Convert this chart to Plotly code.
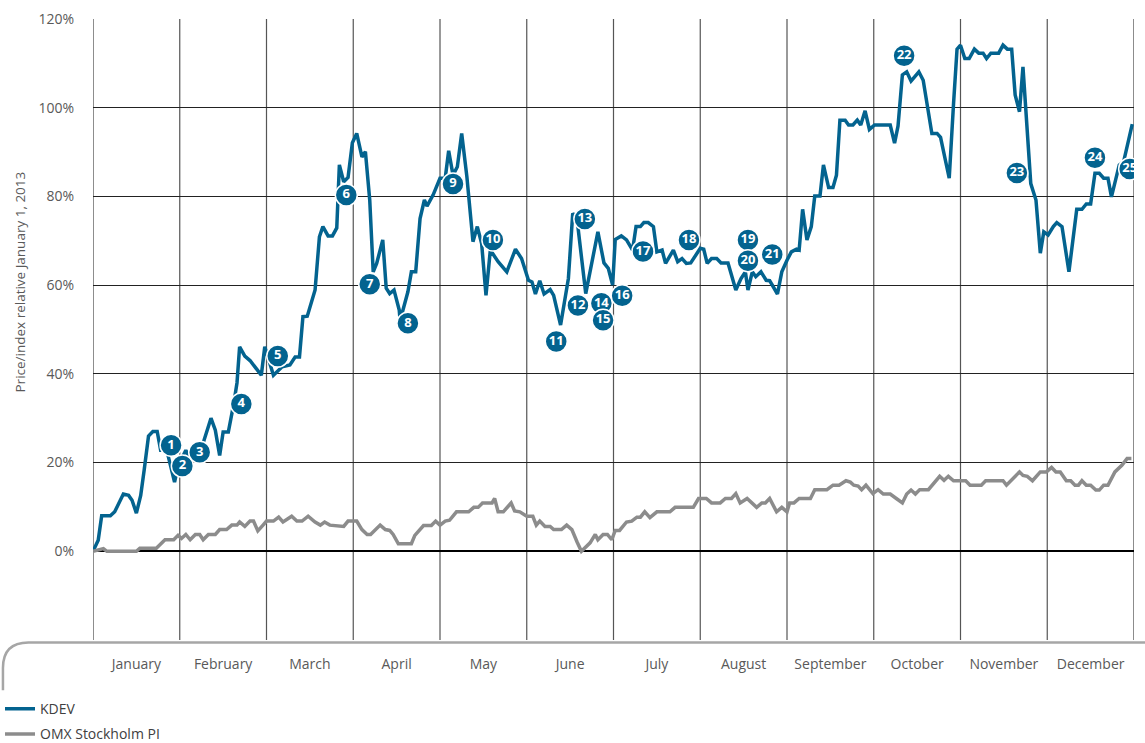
import plotly.graph_objects as go

# Time axis in months since January 1, 2013 (0 = Jan 1, 12 = Dec 31)
months = ["January", "February", "March", "April", "May", "June", "July",
          "August", "September", "October", "November", "December"]

kdev_t = [0.00, 0.06, 0.10, 0.20, 0.25, 0.35, 0.41, 0.45, 0.50, 0.55, 0.59, 0.64, 0.69, 0.74,
          0.78, 0.83, 0.86, 0.94, 0.98, 1.07, 1.10, 1.23, 1.27, 1.36, 1.41, 1.46, 1.50, 1.56,
          1.62, 1.66, 1.69, 1.75, 1.81, 1.87, 1.94, 1.98, 2.08, 2.18, 2.27, 2.33, 2.38, 2.42,
          2.47, 2.56, 2.61, 2.65, 2.71, 2.76, 2.81, 2.84, 2.89, 2.94, 2.99, 3.04, 3.10, 3.14,
          3.19, 3.23, 3.27, 3.34, 3.38, 3.42, 3.47, 3.53, 3.54, 3.63, 3.67, 3.72, 3.77, 3.82,
          3.85, 3.92, 4.00, 4.06, 4.10, 4.15, 4.20, 4.25, 4.31, 4.38, 4.43, 4.48, 4.53, 4.58,
          4.67, 4.77, 4.87, 4.94, 5.02, 5.06, 5.10, 5.15, 5.20, 5.27, 5.31, 5.39, 5.48, 5.53,
          5.58, 5.68, 5.75, 5.82, 5.89, 5.94, 5.99, 6.02, 6.09, 6.15, 6.22, 6.26, 6.31, 6.35,
          6.40, 6.46, 6.50, 6.56, 6.60, 6.69, 6.74, 6.79, 6.84, 6.89, 7.00, 7.04, 7.08, 7.13,
          7.19, 7.24, 7.32, 7.41, 7.47, 7.52, 7.55, 7.60, 7.64, 7.70, 7.76, 7.80, 7.89, 7.94,
          8.00, 8.05, 8.11, 8.14, 8.18, 8.23, 8.28, 8.32, 8.38, 8.42, 8.48, 8.53, 8.57, 8.61,
          8.67, 8.71, 8.76, 8.81, 8.85, 8.90, 8.95, 9.01, 9.19, 9.24, 9.28, 9.33, 9.38, 9.43,
          9.52, 9.57, 9.67, 9.73, 9.77, 9.87, 9.92, 9.96, 10.00, 10.05, 10.10, 10.16, 10.21,
          10.26, 10.30, 10.35, 10.44, 10.49, 10.54, 10.59, 10.63, 10.68, 10.72, 10.81, 10.87,
          10.92, 10.96, 11.01, 11.07, 11.11, 11.17, 11.25, 11.34, 11.40, 11.45, 11.50, 11.55,
          11.60, 11.65, 11.70, 11.74, 11.83, 11.88, 11.98]
kdev_v = [0, 2.5, 8, 8, 8.9, 12.9, 12.6, 11.5, 8.6, 12.6, 18.3, 26, 27, 27,
          22.8, 22.8, 22, 15.6, 19.2, 22.8, 21.6, 22.3, 24.4, 30, 27.3, 21.6, 26.9, 26.9,
          33, 38, 46.1, 44, 43, 41.5, 39.7, 46.1, 39.7, 41.6, 42, 43.8, 43.8, 52.9,
          53, 58.9, 70.9, 73.2, 71.1, 71.1, 72.9, 87.1, 83.3, 84.3, 92.1, 94.2, 88.9, 90.1,
          79.2, 63, 64.9, 70.2, 59.3, 58.1, 58.9, 54.4, 52, 58.5, 63, 63, 75, 79.2,
          77.8, 80.3, 84.1, 84.1, 90.3, 84.8, 86.7, 94.2, 84.4, 69.8, 73.2, 69.4, 57.7, 67.9,
          65.3, 63, 68.1, 66, 61.1, 60.7, 58, 61, 58, 59, 57.7, 51, 61.5, 76.2,
          74.8, 58.1, 64.9, 72, 65, 63.8, 60, 70.3, 71.1, 70.2, 67.9, 73.2, 73.2, 74.1,
          74.1, 73.2, 67.5, 67.9, 64.9, 67.9, 65.3, 66, 64.9, 65, 68.3, 68.1, 64.9, 66,
          66, 65, 65, 58.9, 61.5, 63, 58.9, 63, 61.9, 63, 61.1, 61, 58, 63,
          65.6, 67.5, 68.1, 67.9, 77.1, 70.2, 73.2, 80.1, 80.1, 87.1, 82, 82, 84.8, 97.2,
          97.2, 96.1, 96.1, 97.2, 96.1, 99.3, 95.1, 96.1, 96.1, 92, 95.9, 107.4, 108.1, 106,
          108.1, 106.2, 94.2, 94.2, 93.3, 84.1, 101, 113.2, 114.1, 111.1, 111.1, 113.2, 112.3,
          112.3, 111.1, 112.3, 112.3, 114.1, 113.2, 113.2, 102.9, 99.1, 109.2, 82.9, 79.2,
          67.2, 72, 71.3, 73.2, 74.1, 73.2, 63, 77.1, 77.1, 78.3, 78.3, 85.2,
          85.2, 84.1, 84.1, 79.9, 87.1, 87.8, 96.3]

omx_t = [0.00, 0.12, 0.16, 0.50, 0.54, 0.73, 0.83, 0.93, 0.98, 1.02, 1.07, 1.12, 1.18, 1.23,
         1.27, 1.33, 1.41, 1.46, 1.54, 1.60, 1.66, 1.69, 1.75, 1.81, 1.85, 1.90, 1.96, 2.00,
         2.08, 2.14, 2.19, 2.29, 2.35, 2.41, 2.48, 2.56, 2.62, 2.67, 2.73, 2.89, 2.94, 3.04,
         3.10, 3.16, 3.20, 3.31, 3.37, 3.42, 3.46, 3.52, 3.67, 3.71, 3.81, 3.90, 3.95, 4.00,
         4.06, 4.11, 4.19, 4.33, 4.39, 4.44, 4.49, 4.60, 4.63, 4.67, 4.73, 4.82, 4.86, 4.92,
         5.00, 5.07, 5.11, 5.15, 5.21, 5.27, 5.31, 5.40, 5.46, 5.52, 5.58, 5.63, 5.73, 5.79,
         5.82, 5.88, 5.93, 5.98, 6.02, 6.07, 6.15, 6.21, 6.27, 6.31, 6.36, 6.42, 6.50, 6.65,
         6.71, 6.92, 6.98, 7.07, 7.13, 7.23, 7.29, 7.36, 7.41, 7.46, 7.54, 7.65, 7.71, 7.75,
         7.80, 7.88, 7.94, 8.00, 8.03, 8.08, 8.14, 8.27, 8.32, 8.46, 8.53, 8.60, 8.68, 8.73,
         8.77, 8.82, 8.86, 8.91, 8.99, 9.05, 9.11, 9.19, 9.26, 9.33, 9.38, 9.43, 9.48, 9.53,
         9.63, 9.76, 9.81, 9.86, 9.92, 10.06, 10.11, 10.24, 10.29, 10.49, 10.53, 10.68, 10.72,
         10.77, 10.83, 10.92, 10.99, 11.05, 11.10, 11.15, 11.22, 11.27, 11.32, 11.36, 11.40,
         11.45, 11.50, 11.56, 11.60, 11.65, 11.70, 11.78, 11.86, 11.92, 11.97]
omx_v = [0, 0.6, 0, 0, 0.7, 0.7, 2.6, 2.6, 3.6, 2.9, 3.8, 2.6, 3.8, 3.8,
         2.6, 3.8, 3.8, 4.9, 4.9, 5.9, 5.9, 6.6, 5.6, 6.8, 6.8, 4.6, 5.9, 6.8,
         6.8, 7.7, 6.6, 7.9, 6.8, 6.8, 7.9, 6.6, 5.9, 6.6, 5.9, 5.6, 6.8, 6.8,
         4.9, 3.8, 3.8, 5.9, 4.9, 4.7, 3.8, 1.7, 1.7, 3.6, 5.8, 5.8, 6.8, 5.9,
         6.8, 7, 8.9, 8.9, 9.9, 9.9, 10.9, 10.9, 11.9, 8.9, 8.9, 10.9, 9.1, 8.9,
         7.9, 7.9, 5.9, 6.8, 5.6, 5.6, 4.9, 4.9, 5.9, 4.9, 2.1, 0, 1.9, 3.8,
         2.6, 3.8, 3.8, 2.6, 4.7, 4.7, 6.6, 6.8, 7.7, 7.7, 8.9, 7.6, 8.9, 8.9,
         9.9, 9.9, 11.9, 11.9, 10.9, 10.9, 11.9, 11.9, 13, 10.9, 11.9, 9.9, 10.9, 10.9,
         11.9, 8.9, 9.9, 8.9, 10.9, 10.9, 11.9, 11.9, 13.9, 13.9, 14.9, 14.9, 15.9, 15.6,
         14.9, 14.7, 13.9, 14.9, 13, 13.9, 12.9, 12.9, 11.9, 10.9, 12.9, 13.8, 12.9, 13.9,
         13.9, 16.9, 16, 16.9, 15.9, 15.9, 14.9, 14.9, 15.9, 15.9, 14.9, 17.9, 17.1,
         16.9, 15.9, 17.9, 17.9, 18.9, 17.9, 17.9, 15.9, 15.9, 14.9, 14.9, 15.9,
         14.9, 14.9, 13.8, 13.8, 14.9, 14.9, 17.9, 19.4, 20.9, 20.9]

event_labels = [str(i) for i in range(1, 26)]
event_t = [0.90, 1.03, 1.23, 1.71, 2.13, 2.92, 3.19, 3.63, 4.15, 4.61, 5.34, 5.59, 5.67,
           5.86, 5.88, 6.10, 6.34, 6.87, 7.55, 7.55, 7.83, 9.35, 10.65, 11.55, 11.95]
event_v = [23.9, 19.2, 22.3, 33.2, 44, 80.3, 60.2, 51.4, 82.8, 70.2, 47.3, 55.4, 74.9,
           55.9, 52.1, 57.6, 67.6, 70.2, 70.2, 65.5, 66.9, 111.7, 85.3, 88.7, 86.2]

y_ticks = [0, 20, 40, 60, 80, 100, 120]

BLUE = "#03638f"
GRAY = "#8c8c8c"
TXT = "#595959"
FONT = "Open Sans"

fig = go.Figure()
fig.add_trace(go.Scatter(x=kdev_t, y=kdev_v, mode="lines", name="KDEV", legendgroup="a",
                         line=dict(color=BLUE, width=3.5)))
fig.add_trace(go.Scatter(x=omx_t, y=omx_v, mode="lines", name="OMX Stockholm PI", legendgroup="b",
                         line=dict(color=GRAY, width=3.5)))
fig.add_trace(go.Scatter(x=event_t, y=event_v, mode="markers+text", text=event_labels,
                         textposition="middle center", showlegend=False,
                         marker=dict(size=22, color=BLUE, line=dict(color="white", width=1.5)),
                         textfont=dict(color="white", size=13, family=FONT, weight="bold")))

# vertical month separators
for m in range(0, 13):
    fig.add_shape(type="line", xref="x", yref="paper", x0=m, x1=m, y0=0, y1=1,
                  line=dict(color="#404040" if m in (0, 12) else "#555555", width=1.2), layer="below")

# bracket line below plot area
fig.add_shape(type="path", xref="paper", yref="paper", layer="above",
              path="M -0.0865,-0.081 L -0.0865,-0.045 Q -0.0865,-0.004 -0.062,-0.004 L 1.012,-0.004",
              line=dict(color="#a6a6a6", width=2.5))

fig.add_annotation(text="Price/index relative January 1, 2013", xref="paper", yref="paper",
                   x=-0.0805, y=0.576, textangle=-90, showarrow=False,
                   font=dict(size=13.5, color=TXT, family=FONT))

fig.update_layout(
    width=1145, height=743,
    margin=dict(l=93, r=11, t=19, b=103, autoexpand=False),
    paper_bgcolor="white", plot_bgcolor="white",
    font=dict(family=FONT, color=TXT, size=12),
    showlegend=True,
    legend=dict(xref="container", yref="container", x=0, y=0.067,
                xanchor="left", yanchor="top",
                font=dict(size=14, color="#404040", family=FONT),
                bgcolor="rgba(0,0,0,0)", itemwidth=30, tracegroupgap=4,
                borderwidth=0),
    xaxis=dict(range=[0, 12], tickvals=[m + 0.5 for m in range(12)], ticktext=months,
               showgrid=False, zeroline=False, showline=False,
               ticks="outside", ticklen=11, tickcolor="rgba(0,0,0,0)", automargin=False,
               tickfont=dict(size=14, color=TXT, family=FONT), fixedrange=True),
    yaxis=dict(range=[-20, 120], tickvals=y_ticks, ticktext=[f"{v}%" for v in y_ticks],
               showgrid=True, gridcolor="#222222", gridwidth=1, automargin=False,
               zeroline=True, zerolinecolor="#000000", zerolinewidth=1.5,
               showline=False, ticks="outside", ticklen=15, tickcolor="rgba(0,0,0,0)",
               tickfont=dict(size=14, color=TXT, family=FONT), fixedrange=True),
)

fig.write_html("out.html")
